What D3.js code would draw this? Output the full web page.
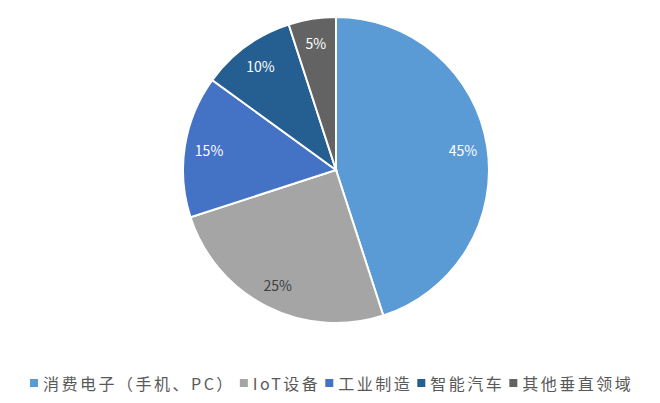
<!DOCTYPE html>
<html lang="zh">
<head>
<meta charset="UTF-8">
<style>
  html, body { margin: 0; padding: 0; background: #fff; font-family: "Noto Sans CJK SC", sans-serif; }
</style>
</head>
<body>
<svg id="chart" width="660" height="403"></svg>
<script src="https://d3js.org/d3.v7.min.js"></script>
<script>
const categories = ["消费电子（手机、PC）", "IoT设备", "工业制造", "智能汽车", "其他垂直领域"];
const values = [45, 25, 15, 10, 5];
const colors = ["#5B9BD5", "#A5A5A5", "#4472C4", "#255E91", "#636363"];

const svg = d3.select("#chart");
const cx = 336, cy = 170, r = 153;

const pie = d3.pie().sort(null).value(d => d)(values);
const arc = d3.arc().innerRadius(0).outerRadius(r);
const labelArc = d3.arc().innerRadius(r * 0.84).outerRadius(r * 0.84);

const g = svg.append("g").attr("transform", `translate(${cx},${cy})`);
g.selectAll("path").data(pie).enter().append("path")
  .attr("d", arc)
  .attr("fill", (d, i) => colors[i])
  .attr("stroke", "#fff")
  .attr("stroke-width", 2);

g.selectAll("text").data(pie).enter().append("text")
  .attr("transform", d => `translate(${labelArc.centroid(d)})`)
  .attr("text-anchor", "middle")
  .attr("dominant-baseline", "central")
  .attr("font-size", 14)
  .attr("fill", (d, i) => i === 1 ? "#404040" : "#fff")
  .text(d => d.data + "%");

// LEGEND
const legend = svg.append("g").attr("transform", "translate(30,383)");
let x = 0;
categories.forEach((c, i) => {
  legend.append("rect").attr("x", x).attr("y", -4).attr("width", 8).attr("height", 8).attr("fill", colors[i]);
  const t = legend.append("text").attr("x", x + 13).attr("y", 0)
    .attr("dominant-baseline", "central").attr("font-size", 16)
    .attr("letter-spacing", 2.5).attr("fill", "#595959").text(c);
  x += t.node().getComputedTextLength() + 18;
});
</script>
</body>
</html>
